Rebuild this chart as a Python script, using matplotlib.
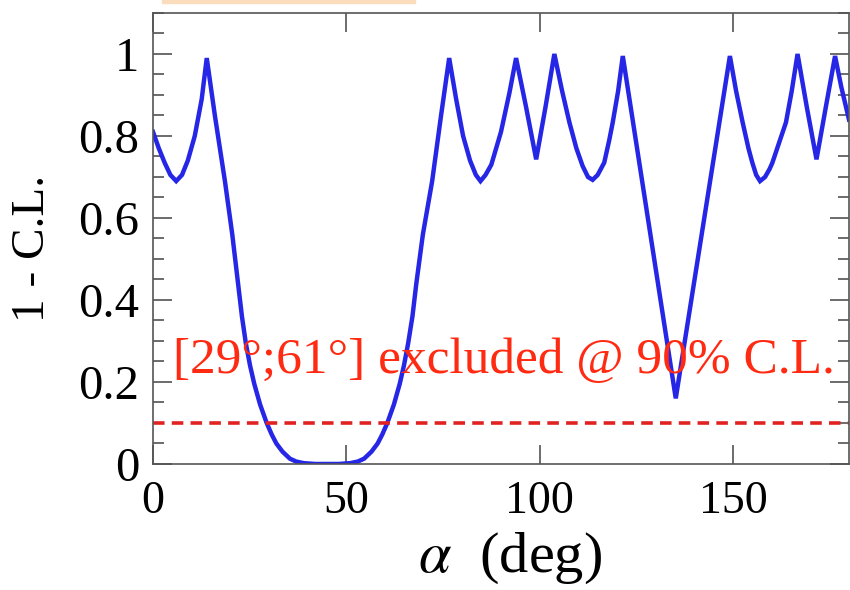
import matplotlib
matplotlib.use("Agg")
import matplotlib.pyplot as plt
from matplotlib.patches import Rectangle
from matplotlib.ticker import MultipleLocator

# values
alpha = [0, 1.5, 3, 4.5, 6, 7.5, 9, 10.8, 12.6, 13.9,
         16, 18.6, 20.5, 22, 23, 24, 25.1, 26.2, 27.7, 29.4, 30.7, 31.9, 33.5, 35.4, 37, 39,
         42, 45, 48,
         51, 53, 54.6, 56.5, 58.1, 59.3, 60.6, 62.3, 63.8, 64.9, 66, 67.1, 68.1, 69.8,
         72.2, 74.5, 76.6,
         78.4, 80.2, 82, 83.5, 84.7, 86, 87.5, 90, 92.2, 93.9,
         96.5, 99.1, 101.5, 103.8,
         105.8, 107.7, 109.5, 111.1, 112.5, 113.7, 115, 116.7, 118, 118.9, 120.3, 121.5,
         135.2, 149.2,
         150.8, 152.5, 154, 155, 156, 157, 158.3, 159.5, 160.2, 161.8, 163.7, 165.2, 166.7,
         169.1, 171.6, 174, 176.4, 178, 180]
one_minus_cl = [0.81, 0.77, 0.735, 0.705, 0.69, 0.705, 0.74, 0.80, 0.89, 0.99,
                0.85, 0.69, 0.56, 0.44, 0.36, 0.295, 0.24, 0.195, 0.145, 0.10, 0.072, 0.05, 0.03,
                0.013, 0.006, 0.002,
                0.0, 0.0, 0.0,
                0.002, 0.006, 0.013, 0.03, 0.05, 0.072, 0.10, 0.145, 0.195, 0.24, 0.295, 0.36,
                0.44, 0.56,
                0.69, 0.85, 0.99,
                0.89, 0.80, 0.74, 0.705, 0.69, 0.705, 0.73, 0.81, 0.906, 0.99,
                0.87, 0.743, 0.87, 1.0,
                0.91, 0.833, 0.77, 0.727, 0.70, 0.693, 0.705, 0.735, 0.79, 0.833, 0.91, 0.995,
                0.16, 0.995,
                0.91, 0.833, 0.77, 0.735, 0.705, 0.69, 0.70, 0.72, 0.735, 0.78, 0.833, 0.91, 1.0,
                0.87, 0.743, 0.87, 0.995, 0.92, 0.84]
cl_limit = 0.1
excluded_text = "[29°;61°] excluded @ 90% C.L."

plt.rcParams['font.family'] = ['Liberation Serif', 'DejaVu Serif']
plt.rcParams['mathtext.fontset'] = 'stix'

fig = plt.figure(figsize=(8.5, 5.9), dpi=100)
ax = fig.add_axes([0.18, 0.2136, 0.8188, 0.7644])

ax.plot(alpha, one_minus_cl, color='#2626e6', lw=3.2, solid_joinstyle='miter')
ax.axhline(cl_limit, color='#e02222', lw=2.6, ls=(0, (3.2, 2.0)))
ax.text(5.2, 0.222, excluded_text, color='#ff2a12', fontsize=37, va='baseline')

ax.set_xlim(0, 180)
ax.set_ylim(0, 1.1)
ax.xaxis.set_major_locator(MultipleLocator(50))
ax.yaxis.set_minor_locator(MultipleLocator(0.05))
ax.set_yticks([0, 0.2, 0.4, 0.6, 0.8, 1.0])
ax.set_yticklabels(['0', '0.2', '0.4', '0.6', '0.8', '1'])
ax.tick_params(which='both', direction='in', top=True, right=True, color='#444444')
ax.tick_params(which='major', length=14, width=1.1)
ax.tick_params(which='minor', length=8, width=1.1)
ax.tick_params(axis='x', pad=12, labelsize=33)
ax.tick_params(axis='y', pad=10, labelsize=35)
for s in ax.spines.values():
    s.set_color('#555555')
    s.set_linewidth(1.2)

ax.set_xlabel(r'$\alpha$  (deg)', fontsize=42)
ax.xaxis.set_label_coords(0.513, -0.147)
ax.set_ylabel('1 - C.L.', fontsize=34)
ax.yaxis.set_label_coords(-0.142, 0.477)

# thin orange strip at top edge of the screenshot
fig.patches.append(Rectangle((162 / 850, 1 - 3 / 590), 253 / 850, 3 / 590,
                             transform=fig.transFigure, color='#fbdcbc', zorder=0))

fig.savefig('out.png', dpi=100)
plt.close()
